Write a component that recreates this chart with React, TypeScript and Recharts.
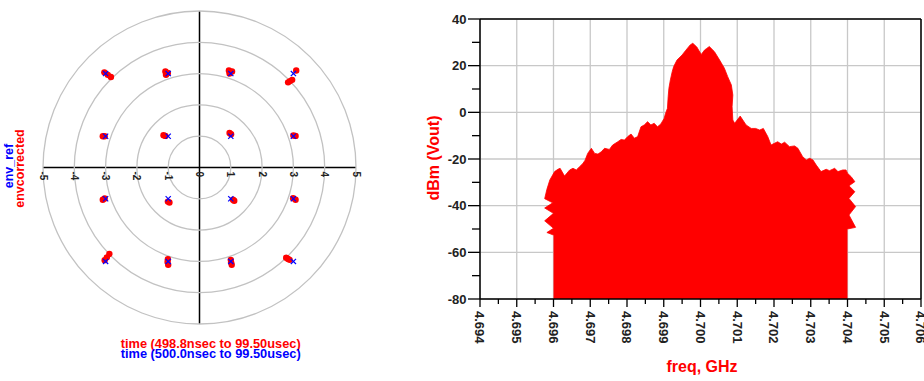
import React from 'react';
import {
  ScatterChart, Scatter, XAxis, YAxis, ReferenceDot, ReferenceLine,
  AreaChart, Area, CartesianGrid,
} from 'recharts';

// ---------------- Left panel: constellation ----------------
const ringRadii = [1, 2, 3, 4, 5];
const polarTicks = [-5, -4, -3, -2, -1, 0, 1, 2, 3, 4, 5];
const polarTickLabels = ['-5', '-4', '-3', '-2', '-1', '0', '1', '2', '3', '4', '5'];

// env_ref (ideal 16-QAM points)
const refI = [-3, -1, 1, 3, -3, -1, 1, 3, -3, -1, 1, 3, -3, -1, 1, 3];
const refQ = [3, 3, 3, 3, 1, 1, 1, 1, -1, -1, -1, -1, -3, -3, -3, -3];

// envcorrected (measured points)
const corrI = [
  -3.04, -2.93, -2.83, -1.09, -1.01, -1.07, 0.94, 1.04, 0.96, 3.09, 2.96, 2.89, 2.83,
  -3.09, -3.03, -1.15, -1.09, 0.96, 1.01, 3.0, 3.07,
  -3.09, -3.03, -1.01, -0.96, 1.07, 1.11, 2.99, 3.07,
  -2.88, -2.96, -3.03, -1.01, -1.0, -1.02, 1.0, 1.03, 1.01, 2.77, 2.88, 2.83,
];
const corrQ = [
  3.04, 2.96, 2.89, 3.07, 3.02, 2.96, 3.10, 3.07, 3.0, 3.10, 2.80, 2.76, 2.72,
  1.0, 1.0, 1.03, 1.01, 1.1, 1.06, 1.02, 1.01,
  -1.03, -0.99, -1.09, -1.12, -1.03, -1.06, -0.98, -1.03,
  -2.76, -2.87, -2.96, -2.93, -3.11, -3.02, -2.95, -3.11, -3.03, -2.88, -2.95, -2.92,
];

const legendRef = 'env_ref';
const legendCorr = 'envcorrected';
const timeCorr = 'time (498.8nsec to 99.50usec)';
const timeRef = 'time (500.0nsec to 99.50usec)';

// ---------------- Right panel: spectrum ----------------
const xMajorTicks = [4.694, 4.695, 4.696, 4.697, 4.698, 4.699, 4.7, 4.701, 4.702, 4.703, 4.704, 4.705, 4.706];
const xTickLabels = ['4.694', '4.695', '4.696', '4.697', '4.698', '4.699', '4.700', '4.701', '4.702', '4.703', '4.704', '4.705', '4.706'];
const xMinorTicks = [4.6945, 4.6955, 4.6965, 4.6975, 4.6985, 4.6995, 4.7005, 4.7015, 4.7025, 4.7035, 4.7045, 4.7055];
const yMajorTicks = [-80, -60, -40, -20, 0, 20, 40];
const yTickLabels = ['-80', '-60', '-40', '-20', '0', '20', '40'];
const yMinorTicks = [-70, -50, -30, -10, 10, 30];

const specFreq = [
  4.69600, 4.69582, 4.69600, 4.69576, 4.69600, 4.69576, 4.69598, 4.69576, 4.69582, 4.69590, 4.69603,
  4.69612, 4.69618, 4.69630, 4.69644, 4.69653, 4.69662, 4.69671, 4.69680, 4.69686, 4.69693, 4.69703,
  4.69712, 4.69721, 4.69730, 4.69739, 4.69752, 4.69761, 4.69775, 4.69784, 4.69793, 4.69802, 4.69811,
  4.69820, 4.69829, 4.69838, 4.69847, 4.69856, 4.69865, 4.69874, 4.69883, 4.69892, 4.69901, 4.69905,
  4.69910, 4.69912, 4.69914, 4.69918, 4.69923, 4.69927, 4.69936, 4.69950, 4.69959, 4.69972, 4.69979,
  4.69990, 4.70002, 4.70011, 4.70017, 4.70024, 4.70038, 4.70052, 4.70065, 4.70074, 4.70084, 4.70088,
  4.70086, 4.70088, 4.70093, 4.70108, 4.70124, 4.70138, 4.70150, 4.70161, 4.70171, 4.70183, 4.70192,
  4.70201, 4.70210, 4.70220, 4.70229, 4.70242, 4.70256, 4.70265, 4.70278, 4.70288, 4.70297, 4.70306,
  4.70315, 4.70328, 4.70342, 4.70351, 4.70365, 4.70374, 4.70387, 4.70396, 4.70400, 4.70410, 4.70420,
  4.70404, 4.70420, 4.70404, 4.70422, 4.70404, 4.70422, 4.70400,
];
const specDbm = [
  -52.6, -51.5, -49.7, -46.5, -43.3, -41.0, -38.8, -37.0, -33.0, -29.0, -25.4,
  -24.4, -24.0, -27.3, -24.7, -24.0, -24.7, -23.3, -21.9, -20.5, -17.6, -15.4,
  -17.6, -17.9, -16.9, -15.4, -15.9, -14.0, -12.6, -11.6, -11.9, -10.4, -9.3,
  -11.1, -10.4, -6.2, -5.4, -4.0, -5.4, -4.7, -6.2, -5.0, -2.6, -0.4,
  1.7, 6.7, 10.3, 13.9, 17.4, 19.6, 22.4, 24.6, 26.4, 28.9, 29.6,
  28.0, 24.8, 26.7, 27.4, 28.2, 26.0, 22.4, 18.9, 15.3, 11.7, 7.4,
  2.4, -3.3, -4.7, -1.6, -5.4, -6.9, -6.9, -7.6, -6.9, -10.4, -14.0,
  -13.3, -12.6, -13.6, -12.8, -14.7, -14.4, -15.4, -19.0, -20.4, -19.7, -20.4,
  -22.6, -25.4, -24.4, -25.0, -24.0, -25.4, -24.7, -24.7, -26.1, -27.6, -29.7,
  -31.5, -34.0, -36.9, -40.4, -44.0, -49.3, -50.0,
];
const yAxisTitle = 'dBm (Vout)';
const xAxisTitle = 'freq, GHz';

// ---------------- helpers ----------------
const FONT = "'Liberation Sans', Arial, Helvetica, sans-serif";
const RED = '#ff0000';
const BLUE = '#0000ff';
const POLAR_PLOT = 313;
const unitPx = POLAR_PLOT / 10;

const refData = refI.map((x, i) => ({ x, y: refQ[i] }));
const corrData = corrI.map((x, i) => ({ x, y: corrQ[i] }));
const spectrum = specFreq.map((f, i) => ({ f, v: specDbm[i] }));
const xAllTicks = [...xMajorTicks, ...xMinorTicks].sort((a, b) => a - b);
const yAllTicks = [...yMajorTicks, ...yMinorTicks].sort((a, b) => a - b);

const RedDot = (p: any) => <circle cx={p.cx} cy={p.cy} r={3.2} fill={RED} />;
const BlueX = (p: any) => {
  const s = 2.6;
  return (
    <g stroke={BLUE} strokeWidth={1.2}>
      <line x1={p.cx - s} y1={p.cy - s} x2={p.cx + s} y2={p.cy + s} />
      <line x1={p.cx - s} y1={p.cy + s} x2={p.cx + s} y2={p.cy - s} />
    </g>
  );
};

const makePolarTick = (label: string) => (p: any) => (
  <text
    transform={`translate(${p.cx},${p.cy + 4}) rotate(90)`}
    dy="0.35em"
    fontSize={10}
    fontWeight="bold"
    fontFamily={FONT}
    fill="#222"
    textAnchor="start"
  >
    {label}
  </text>
);

const XTick = (props: any) => {
  const { x, y, payload } = props;
  const idx = xMajorTicks.findIndex((t) => Math.abs(t - payload.value) < 1e-7);
  const major = idx >= 0;
  return (
    <g>
      <line x1={x} x2={x} y1={y} y2={y + (major ? 8 : 5)} stroke="#000" strokeWidth={1.3} />
      {major && (
        <text
          transform={`translate(${x},${y + 12}) rotate(90)`}
          dy="0.35em"
          fontSize={13}
          fontWeight="bold"
          fontFamily={FONT}
          fill="#222"
          textAnchor="start"
        >
          {xTickLabels[idx]}
        </text>
      )}
    </g>
  );
};

const YTick = (props: any) => {
  const { x, y, payload } = props;
  const idx = yMajorTicks.indexOf(payload.value);
  const major = idx >= 0;
  return (
    <g>
      <line x1={x - (major ? 12 : 8)} x2={x} y1={y} y2={y} stroke="#000" strokeWidth={1.3} />
      {major && (
        <text
          x={x - 13.5}
          y={y}
          dy="0.35em"
          fontSize={13}
          fontWeight="bold"
          fontFamily={FONT}
          fill="#222"
          textAnchor="end"
        >
          {yTickLabels[idx]}
        </text>
      )}
    </g>
  );
};

export default function App() {
  return (
    <div
      style={{
        position: 'absolute',
        left: 0,
        top: 0,
        width: 924,
        height: 381,
        background: '#fff',
        fontFamily: FONT,
        overflow: 'hidden',
      }}
    >
      {/* Left: constellation */}
      <div style={{ position: 'absolute', left: 0, top: 0 }}>
        <ScatterChart width={370} height={381} margin={{ top: 11, left: 43, right: 14, bottom: 57 }}>
          <XAxis type="number" dataKey="x" domain={[-5, 5]} hide allowDataOverflow />
          <YAxis type="number" dataKey="y" domain={[-5, 5]} hide allowDataOverflow />
          {ringRadii.map((r) => (
            <ReferenceDot key={'ring' + r} x={0} y={0} r={r * unitPx} fill="none" stroke="#c2c2c2" strokeWidth={1.3} />
          ))}
          <ReferenceLine x={0} stroke="#000" strokeWidth={1.5} />
          <ReferenceLine y={0} stroke="#000" strokeWidth={1.5} />
          {polarTicks.map((t, i) => (
            <ReferenceDot key={'pt' + t} x={t} y={0} r={0} shape={makePolarTick(polarTickLabels[i])} />
          ))}
          <Scatter data={corrData} fill={RED} shape={RedDot} isAnimationActive={false} />
          <Scatter data={refData} fill={BLUE} shape={BlueX} isAnimationActive={false} />
        </ScatterChart>
      </div>
      <svg width={370} height={381} style={{ position: 'absolute', left: 0, top: 0, pointerEvents: 'none' }}>
        <text transform="translate(24,168.5) rotate(-90)" textAnchor="middle" fontSize={12.5} fontWeight="bold" fill={RED} fontFamily={FONT}>
          {legendCorr}
        </text>
        <text transform="translate(12.5,166) rotate(-90)" textAnchor="middle" fontSize={12.5} fontWeight="bold" fill={BLUE} fontFamily={FONT}>
          {legendRef}
        </text>
        <text x={210.7} y={347.5} textAnchor="middle" fontSize={12.8} fontWeight="bold" fill={RED} fontFamily={FONT}>
          {timeCorr}
        </text>
        <text x={210.7} y={358} textAnchor="middle" fontSize={12.8} fontWeight="bold" fill={BLUE} fontFamily={FONT}>
          {timeRef}
        </text>
      </svg>

      {/* Right: spectrum */}
      <div style={{ position: 'absolute', left: 380, top: 0 }}>
        <AreaChart width={544} height={381} data={spectrum} margin={{ top: 19, right: 3, bottom: 32, left: 40 }}>
          <CartesianGrid horizontalValues={yMajorTicks} verticalValues={xMajorTicks} stroke="#c8c8c8" strokeWidth={1.3} />
          <XAxis
            type="number"
            dataKey="f"
            domain={[4.694, 4.706]}
            ticks={xAllTicks}
            interval={0}
            tickSize={0}
            tickMargin={0}
            tickLine={false}
            tick={<XTick />}
            axisLine={{ stroke: '#000', strokeWidth: 1.5 }}
            height={50}
            allowDataOverflow
          />
          <YAxis
            type="number"
            domain={[-80, 40]}
            ticks={yAllTicks}
            interval={0}
            tickSize={0}
            tickMargin={0}
            tickLine={false}
            tick={<YTick />}
            axisLine={{ stroke: '#000', strokeWidth: 1.5 }}
            width={60}
            allowDataOverflow
          />
          <ReferenceLine y={40} stroke="#000" strokeWidth={1.5} />
          <ReferenceLine x={4.706} stroke="#000" strokeWidth={1.5} />
          <Area
            type="linear"
            dataKey="v"
            baseValue="dataMin"
            fill={RED}
            fillOpacity={1}
            stroke={RED}
            strokeWidth={0.8}
            dot={false}
            activeDot={false}
            isAnimationActive={false}
          />
        </AreaChart>
      </div>
      <svg width={924} height={381} style={{ position: 'absolute', left: 0, top: 0, pointerEvents: 'none' }}>
        <text transform="translate(439,158) rotate(-90)" textAnchor="middle" fontSize={16} fontWeight="bold" fill={RED} fontFamily={FONT}>
          {yAxisTitle}
        </text>
        <text x={702} y={371.5} textAnchor="middle" fontSize={16} fontWeight="bold" fill={RED} fontFamily={FONT}>
          {xAxisTitle}
        </text>
      </svg>
    </div>
  );
}
